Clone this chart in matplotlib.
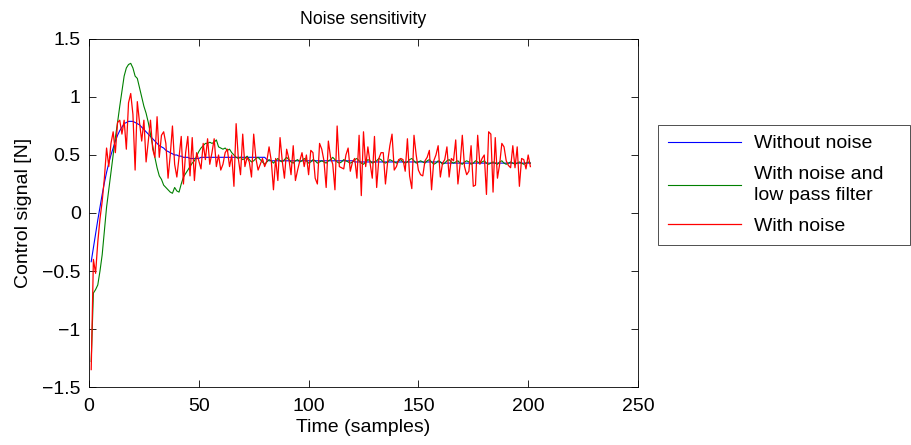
import matplotlib
matplotlib.use("Agg")
import matplotlib.pyplot as plt

plt.rcParams['font.family'] = ['Liberation Sans', 'DejaVu Sans']

# sample index 1..201
samples = list(range(1, 202))

without_noise = [
    -0.42, -0.30, -0.18, -0.06, 0.05, 0.16, 0.26, 0.35, 0.43, 0.50,
    0.56, 0.62, 0.67, 0.71, 0.74, 0.77, 0.78, 0.79, 0.79, 0.79,
    0.78, 0.77, 0.76, 0.74, 0.72, 0.70, 0.68, 0.66, 0.64, 0.62,
    0.60, 0.58, 0.57, 0.56, 0.54, 0.53, 0.52, 0.51, 0.50, 0.50,
    0.49, 0.49, 0.48, 0.48, 0.48, 0.47, 0.47, 0.47, 0.47, 0.47,
    0.48, 0.48, 0.48, 0.48, 0.48, 0.48, 0.48, 0.48, 0.48, 0.48,
    0.48, 0.48, 0.48, 0.48, 0.48, 0.48, 0.48, 0.48, 0.48, 0.48,
    0.48, 0.48, 0.48, 0.48, 0.48, 0.48, 0.48, 0.48, 0.48, 0.48,
    0.46, 0.45, 0.45, 0.45, 0.45, 0.45, 0.45, 0.45, 0.45, 0.45,
    0.45, 0.45, 0.45, 0.45, 0.45, 0.45, 0.45, 0.45, 0.45, 0.45,
    0.45, 0.45, 0.45, 0.45, 0.45, 0.45, 0.45, 0.45, 0.45, 0.45,
    0.45, 0.45, 0.45, 0.45, 0.45, 0.45, 0.45, 0.45, 0.45, 0.45,
    0.44, 0.44, 0.44, 0.44, 0.44, 0.44, 0.44, 0.44, 0.44, 0.44,
    0.44, 0.44, 0.44, 0.44, 0.44, 0.44, 0.44, 0.44, 0.44, 0.44,
    0.44, 0.44, 0.44, 0.44, 0.44, 0.44, 0.44, 0.44, 0.44, 0.44,
    0.44, 0.44, 0.44, 0.44, 0.44, 0.44, 0.44, 0.44, 0.44, 0.44,
    0.43, 0.43, 0.43, 0.43, 0.43, 0.43, 0.43, 0.43, 0.43, 0.43,
    0.43, 0.43, 0.43, 0.43, 0.43, 0.43, 0.43, 0.43, 0.43, 0.43,
    0.43, 0.43, 0.43, 0.43, 0.43, 0.43, 0.43, 0.43, 0.43, 0.43,
    0.43, 0.43, 0.43, 0.43, 0.43, 0.43, 0.43, 0.43, 0.43, 0.43,
    0.43,
]

low_pass = [
    -1.28, -0.69, -0.66, -0.62, -0.50, -0.36, -0.15, 0.05, 0.20, 0.35,
    0.50, 0.65, 0.78, 0.92, 1.05, 1.18, 1.25, 1.28, 1.29, 1.25,
    1.18, 1.16, 1.08, 1.00, 0.92, 0.86, 0.78, 0.68, 0.58, 0.48,
    0.39, 0.32, 0.29, 0.24, 0.22, 0.20, 0.18, 0.17, 0.22, 0.19,
    0.18, 0.25, 0.31, 0.34, 0.37, 0.40, 0.43, 0.45, 0.49, 0.53,
    0.56, 0.58, 0.60, 0.60, 0.61, 0.60, 0.61, 0.63, 0.57, 0.56,
    0.55, 0.56, 0.54, 0.55, 0.52, 0.50, 0.48, 0.47, 0.48, 0.46,
    0.47, 0.49, 0.46, 0.44, 0.45, 0.47, 0.48, 0.46, 0.44, 0.42,
    0.44, 0.46, 0.45, 0.43, 0.45, 0.47, 0.45, 0.44, 0.46, 0.48,
    0.46, 0.44, 0.43, 0.45, 0.46, 0.44, 0.45, 0.47, 0.45, 0.43,
    0.44, 0.46, 0.45, 0.43, 0.44, 0.45, 0.44, 0.43, 0.45, 0.46,
    0.48, 0.46, 0.44, 0.43, 0.44, 0.46, 0.45, 0.44, 0.43, 0.44,
    0.46, 0.47, 0.45, 0.43, 0.42, 0.44, 0.46, 0.45, 0.43, 0.44,
    0.45, 0.47, 0.46, 0.44, 0.43, 0.44, 0.46, 0.45, 0.44, 0.43,
    0.45, 0.46, 0.44, 0.43, 0.44, 0.46, 0.47, 0.45, 0.43, 0.44,
    0.45, 0.44, 0.43, 0.45, 0.46, 0.44, 0.42, 0.43, 0.45, 0.44,
    0.42, 0.43, 0.45, 0.46, 0.44, 0.43, 0.44, 0.45, 0.43, 0.42,
    0.44, 0.45, 0.44, 0.42, 0.43, 0.45, 0.44, 0.43, 0.44, 0.45,
    0.43, 0.42, 0.43, 0.44, 0.43, 0.42, 0.44, 0.45, 0.43, 0.42,
    0.43, 0.44, 0.43, 0.42, 0.43, 0.44, 0.43, 0.42, 0.43, 0.44,
    0.43,
]

with_noise = [
    -1.35, -0.40, -0.52, -0.25, -0.05, 0.10, 0.30, 0.56, 0.40, 0.60,
    0.70, 0.52, 0.78, 0.80, 0.68, 0.80, 0.55, 0.95, 1.03, 0.85,
    0.37, 0.96, 0.78, 0.62, 0.80, 0.44, 0.62, 0.80, 0.55, 0.48,
    0.83, 0.48, 0.67, 0.70, 0.60, 0.30, 0.50, 0.75, 0.42, 0.31,
    0.48, 0.66, 0.25, 0.52, 0.66, 0.32, 0.65, 0.28, 0.52, 0.45,
    0.38, 0.60, 0.46, 0.64, 0.42, 0.52, 0.64, 0.40, 0.50, 0.37,
    0.42, 0.52, 0.55, 0.40, 0.50, 0.23, 0.77, 0.47, 0.33, 0.68,
    0.40, 0.48, 0.44, 0.31, 0.68, 0.47, 0.37, 0.42, 0.47, 0.40,
    0.45, 0.57, 0.45, 0.20, 0.47, 0.28, 0.65, 0.45, 0.30, 0.55,
    0.47, 0.33, 0.58, 0.28, 0.37, 0.45, 0.52, 0.40, 0.50, 0.33,
    0.54, 0.52, 0.30, 0.25, 0.60, 0.55, 0.45, 0.22, 0.62, 0.48,
    0.42, 0.20, 0.75, 0.40, 0.39, 0.38, 0.50, 0.56, 0.36, 0.44,
    0.47, 0.30, 0.67, 0.15, 0.70, 0.40, 0.57, 0.43, 0.30, 0.66,
    0.22, 0.47, 0.52, 0.52, 0.25, 0.44, 0.58, 0.68, 0.37, 0.40,
    0.46, 0.47, 0.46, 0.36, 0.64, 0.32, 0.21, 0.67, 0.50, 0.37,
    0.33, 0.32, 0.45, 0.48, 0.54, 0.20, 0.45, 0.50, 0.58, 0.31,
    0.43, 0.46, 0.57, 0.31, 0.47, 0.45, 0.63, 0.25, 0.42, 0.67,
    0.40, 0.33, 0.36, 0.58, 0.23, 0.24, 0.67, 0.42, 0.47, 0.50,
    0.16, 0.70, 0.68, 0.18, 0.65, 0.30, 0.42, 0.60, 0.57, 0.45,
    0.41, 0.39, 0.58, 0.39, 0.57, 0.23, 0.47, 0.46, 0.38, 0.50,
    0.40,
]

labels = ['Without noise', 'With noise and\nlow pass filter', 'With noise']

fig = plt.figure(figsize=(9.11, 4.45), dpi=100)
ax = fig.add_axes([0.0977, 0.1303, 0.6026, 0.7821])

ax.plot(samples, without_noise, color='#0000ff', lw=0.8, label=labels[0])
ax.plot(samples, low_pass, color='#008000', lw=0.8, label=labels[1])
ax.plot(samples, with_noise, color='#ff0000', lw=0.9, label=labels[2])

ax.set_xlim(0, 250)
ax.set_ylim(-1.5, 1.5)
ax.set_xticks([0, 50, 100, 150, 200, 250])
ax.set_yticks([-1.5, -1, -0.5, 0, 0.5, 1, 1.5])
ax.set_yticklabels(['\u22121.5', '\u22121', '\u22120.5', '0', '0.5', '1', '1.5'])
ax.tick_params(direction='in', top=True, right=True, length=5, width=0.6,
               labelsize=14)
ax.tick_params(axis='x', pad=8)
ax.tick_params(axis='y', pad=6)
for sp in ax.spines.values():
    sp.set_linewidth(0.6)

ax.set_title('Noise sensitivity', fontsize=12.7, pad=11)
ax.set_xlabel('Time (samples)', fontsize=14, labelpad=3)
ax.set_ylabel('Control signal [N]', fontsize=14, labelpad=7)

leg = ax.legend(loc='upper left', bbox_to_anchor=(0.7223, 0.454, 0.2766, 0.265),
                bbox_transform=fig.transFigure, mode='expand', fontsize=14,
                frameon=True, fancybox=False, handlelength=3.75,
                handletextpad=0.7, borderpad=0.5, labelspacing=0.68,
                borderaxespad=0)
leg.get_frame().set_edgecolor('black')
leg.get_frame().set_linewidth(0.6)
for t in leg.get_texts():
    t.set_linespacing(1.35)

plt.savefig('out.png', dpi=100)
